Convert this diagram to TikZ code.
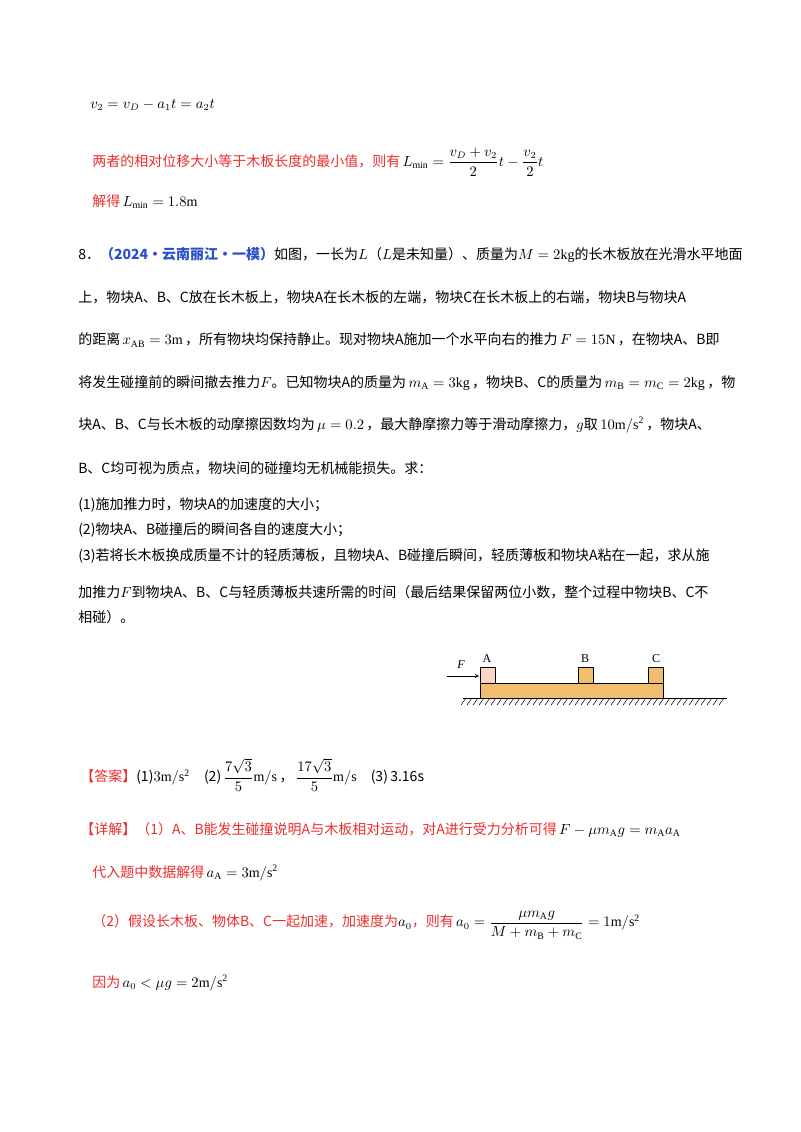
\documentclass[tikz,border=0pt]{standalone}
\usepackage{fontspec}
\setmainfont{Liberation Serif}
\newfontfamily\cjk{Noto Sans CJK SC}
\usepackage{amsmath}
\definecolor{rd}{RGB}{235,45,45}
\definecolor{bl}{RGB}{40,80,200}
\definecolor{wood}{RGB}{240,190,110}
\definecolor{pinkb}{RGB}{250,215,195}
\begin{document}
\begin{tikzpicture}[x=0.75pt,y=-0.75pt,
  t/.style={anchor=west,inner sep=0pt,font=\fontsize{10.5}{12}\cjk},
  r/.style={t,text=rd}]
\useasboundingbox (0,0) rectangle (800,1132);
\node[t] (l1) at (90,105) {$v_2=v_D-a_1t=a_2t$};
\node[r] (l2) at (92,162) {两者的相对位移大小等于木板长度的最小值，则有\,\textcolor{black}{$L_{\min}=\dfrac{v_D+v_2}{2}t-\dfrac{v_2}{2}t$}};
\node[r] (l3) at (92,202) {解得\,\textcolor{black}{$L_{\min}=1.8\mathrm{m}$}};
\node[t] (p1) at (78,255) {8．\textcolor{bl}{\textbf{（2024·云南丽江·一模）}}如图，一长为$L$（$L$是未知量）、质量为$M=2\mathrm{kg}$的长木板放在光滑水平地面};
\node[t] (p2) at (78,297) {上，物块A、B、C放在长木板上，物块A在长木板的左端，物块C在长木板上的右端，物块B与物块A};
\node[t] (p3) at (78,340) {的距离\,$x_{\mathrm{AB}}=3\mathrm{m}$\,，所有物块均保持静止。现对物块A施加一个水平向右的推力\,$F=15\mathrm{N}$\,，在物块A、B即};
\node[t] (p4) at (78,383) {将发生碰撞前的瞬间撤去推力$F$。已知物块A的质量为\,$m_{\mathrm A}=3\mathrm{kg}$\,，物块B、C的质量为\,$m_{\mathrm B}=m_{\mathrm C}=2\mathrm{kg}$\,，物};
\node[t] (p5) at (78,425) {块A、B、C与长木板的动摩擦因数均为\,$\mu=0.2$\,，最大静摩擦力等于滑动摩擦力，$g$取\,$10\mathrm{m/s^2}$\,，物块A、};
\node[t] (p6) at (78,468) {B、C均可视为质点，物块间的碰撞均无机械能损失。求：};
\node[t] (p7) at (78,505) {(1)施加推力时，物块A的加速度的大小；};
\node[t] (p8) at (78,530) {(2)物块A、B碰撞后的瞬间各自的速度大小；};
\node[t] (p9) at (78,556) {(3)若将长木板换成质量不计的轻质薄板，且物块A、B碰撞后瞬间，轻质薄板和物块A粘在一起，求从施};
\node[t] (p10) at (78,592) {加推力$F$到物块A、B、C与轻质薄板共速所需的时间（最后结果保留两位小数，整个过程中物块B、C不};
\node[t] (p11) at (78,617) {相碰）。};
% diagram
\draw (463,698) -- (727,698);
\foreach \i in {0,...,43} \draw (466+6*\i,698) -- (461+6*\i,705);
\draw[fill=wood] (480,683) rectangle (663,698);
\draw[fill=pinkb] (480,667) rectangle (495,683);
\draw[fill=wood] (578,667) rectangle (593,683);
\draw[fill=wood] (648,667) rectangle (663,683);
\node[font=\small] (A) at (487,659) {A};
\node[font=\small] (B) at (585,659) {B};
\node[font=\small] (C) at (656,659) {C};
\node[font=\small\itshape] (F) at (461,665) {F};
\coordinate (fs) at (447,676); \coordinate (fe) at (479,676);
\draw[-stealth] (fs) -- (fe);
% answers
\node[t] (a1) at (80,775) {\textcolor{rd}{【答案】}(1)$3\mathrm{m/s^2}$\quad (2)\,$\dfrac{7\sqrt3}{5}\mathrm{m/s}$\,，\,$\dfrac{17\sqrt3}{5}\mathrm{m/s}$\quad (3)\,3.16s};
\node[r] (a2) at (80,830) {【详解】（1）A、B能发生碰撞说明A与木板相对运动，对A进行受力分析可得\,\textcolor{black}{$F-\mu m_{\mathrm A}g=m_{\mathrm A}a_{\mathrm A}$}};
\node[r] (a3) at (92,873) {代入题中数据解得\,\textcolor{black}{$a_{\mathrm A}=3\mathrm{m/s^2}$}};
\node[r] (a4) at (92,925) {（2）假设长木板、物体B、C一起加速，加速度为\textcolor{black}{$a_0$}，则有\,\textcolor{black}{$a_0=\dfrac{\mu m_{\mathrm A}g}{M+m_{\mathrm B}+m_{\mathrm C}}=1\mathrm{m/s^2}$}};
\node[r] (a5) at (92,983) {因为\,\textcolor{black}{$a_0<\mu g=2\mathrm{m/s^2}$}};
\end{tikzpicture}
\end{document}
